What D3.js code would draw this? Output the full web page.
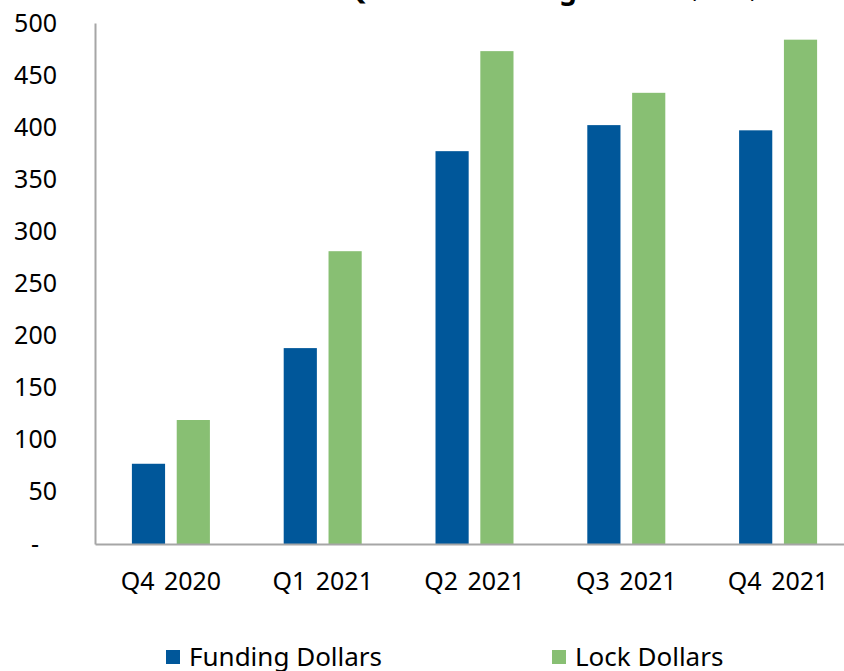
<!DOCTYPE html>
<html lang="en">
<head>
<meta charset="utf-8">
<title>Quarterly Funding and Lock Dollars</title>
<script src="https://cdn.jsdelivr.net/npm/d3@7"></script>
<style>
  body { margin: 0; background: white; }
  svg { display: block; font-family: "Noto Sans", sans-serif; }
</style>
</head>
<body>
<div id="chart"></div>
<script>
// data ($ millions)
var quarters = ["Q4 2020", "Q1 2021", "Q2 2021", "Q3 2021", "Q4 2021"];
var seriesNames = ["Funding Dollars", "Lock Dollars"];
var fundingDollars = [77, 188, 377, 402, 397];
var lockDollars = [119, 281, 473, 433, 484];
var yTicks = [0, 50, 100, 150, 200, 250, 300, 350, 400, 450, 500];

var width = 844, height = 671;
var colors = ["#00579a", "#88bf73"];

var svg = d3.select("#chart").append("svg")
  .attr("width", width)
  .attr("height", height);

var table = quarters.map(function(q, i) {
  return {quarter: q, values: [fundingDollars[i], lockDollars[i]]};
});

var x0 = d3.scaleBand()
  .domain(quarters)
  .range([95, 95 + 5 * 151.8])
  .paddingInner(0)
  .paddingOuter(0);

var x1 = d3.scaleBand()
  .domain([0, 1])
  .range([x0.bandwidth() / 2 - 39, x0.bandwidth() / 2 + 39])
  .paddingInner(0.26);

var y = d3.scaleLinear()
  .domain([0, 500])
  .range([544, 23]);

// title (mostly above the visible area, as in the original)
svg.append("text")
  .attr("x", 345).attr("y", -1)
  .style("font-weight", "bold").style("font-size", "28px")
  .text("Quarter Funding Volume");
svg.append("text")
  .attr("x", 690).attr("y", -2)
  .style("font-size", "22px")
  .text("($mm)");

// bars
var groups = svg.selectAll("g.group")
  .data(table)
  .enter().append("g")
  .attr("class", "group")
  .attr("transform", function(d) { return "translate(" + x0(d.quarter) + ",0)"; });

groups.selectAll("rect")
  .data(function(d) { return d.values; })
  .enter().append("rect")
  .attr("x", function(d, i) { return x1(i); })
  .attr("width", x1.bandwidth())
  .attr("y", function(d) { return y(d); })
  .attr("height", function(d) { return y(0) - y(d); })
  .attr("fill", function(d, i) { return colors[i]; });

// y axis
var yAxis = d3.axisLeft(y)
  .tickValues(yTicks)
  .tickSize(0)
  .tickPadding(38)
  .tickFormat(function(d) { return d === 0 ? "-" : d; });

var ya = svg.append("g")
  .attr("transform", "translate(95,0)")
  .call(yAxis);
ya.select(".domain").attr("stroke", "#a6a6a6").attr("stroke-width", 2);
ya.selectAll("text")
  .style("font-size", "25px")
  .style("font-family", "Noto Sans")
  .attr("fill", "#000")
  .attr("dx", function(d) { return d === 0 ? -18 : 0; });

// x axis
var xAxis = d3.axisBottom(x0).tickSize(0).tickPadding(28);
var xa = svg.append("g")
  .attr("transform", "translate(0,544)")
  .call(xAxis);
xa.select(".domain").attr("stroke", "#a6a6a6").attr("stroke-width", 2);
xa.selectAll("text")
  .style("font-size", "25px")
  .style("font-family", "Noto Sans")
  .style("word-spacing", "3px")
  .attr("fill", "#000");

// legend
var legendX = [166, 552];
var legend = svg.selectAll("g.legend")
  .data(seriesNames)
  .enter().append("g")
  .attr("class", "legend")
  .attr("transform", function(d, i) { return "translate(" + legendX[i] + ",650)"; });

legend.append("rect")
  .attr("width", 14).attr("height", 14)
  .attr("fill", function(d, i) { return colors[i]; });

legend.append("text")
  .attr("x", 23).attr("y", 16)
  .style("font-size", "26px")
  .text(function(d) { return d; });
</script>
</body>
</html>
